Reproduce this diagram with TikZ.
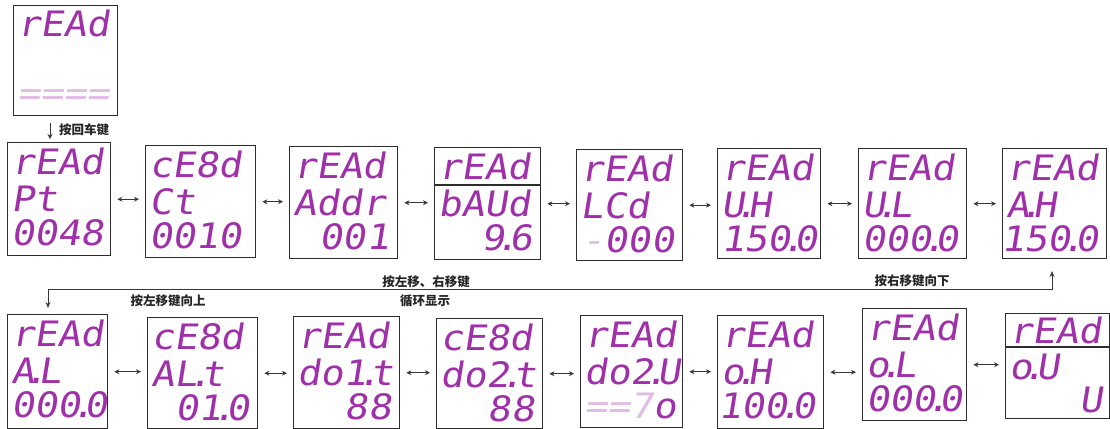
\documentclass[tikz,border=0pt]{standalone}
\usepackage{fontspec}
\usetikzlibrary{arrows.meta,calc}
\newfontfamily\seg{DejaVu Sans Mono}[FakeSlant=0.16,FakeStretch=1.1]
\newfontfamily\cjk{Noto Sans CJK SC}
\definecolor{segc}{RGB}{160,48,170}
\definecolor{seglight}{RGB}{225,188,229}
\definecolor{framec}{RGB}{45,45,45}
\definecolor{arrowc}{RGB}{55,55,55}
\newcommand\sdot{\makebox[0.12em][c]{.}}
\newcommand\lt[1]{\textcolor{seglight}{#1}}
\tikzset{
  dbox/.style={draw=framec, line width=1.4pt, fill=white, anchor=north west, inner sep=0},
  segtxt/.style={anchor=base west, inner sep=0, text depth=0pt, text=segc, font=\seg\fontsize{35}{35}\selectfont},
  dbl/.style={{Stealth[length=5pt,width=5pt]}-{Stealth[length=5pt,width=5pt]}, draw=arrowc, line width=1pt, shorten <=6pt, shorten >=6pt},
  loopline/.style={{Stealth[length=6pt,width=5pt]}-{Stealth[length=6pt,width=5pt]}, draw=arrowc, line width=0.9pt},
  lbl/.style={inner sep=0, text=black!85, font=\cjk\bfseries\fontsize{12.5}{14}\selectfont},
  divline/.style={draw=framec, line width=1.4pt}
}
\newcommand\dispbox[9]{%
  \node[dbox, minimum width={(#4-#2)*1pt}, minimum height={(#5-#3)*1pt}] (#1) at (#2,#3) {};
  \node[segtxt] (#1a) at ([xshift=4pt,yshift=-32pt]#1.north west) {#6};
  \node[segtxt] (#1b) at ([xshift=4pt,yshift=-69pt]#1.north west) {#7};
  \node[segtxt] (#1c) at ([xshift=4pt,yshift=-103pt]#1.north west) {\makebox[\dimexpr #4pt-#2pt-12pt\relax][#9]{#8}};
}
\begin{document}
\begin{tikzpicture}[x=1pt,y=-1pt]
\useasboundingbox (0,0) rectangle (1110,428);
% top box
\node[dbox, minimum width=104pt, minimum height=110pt] (T) at (13,5) {};
\node[segtxt] (Ta) at ([xshift=4pt,yshift=-32pt]T.north west) {rEAd};
\node[segtxt] (Tc) at ([xshift=4pt,yshift=-100pt]T.north west) {\lt{====}};
\coordinate (d1) at (50,123);
\coordinate (d2) at (50,139);
\draw[-{Stealth[length=5pt,width=5pt]}, draw=arrowc, line width=0.9pt] (d1) -- (d2);
\node[lbl, anchor=west] (L0) at (59,130) {按回车键};
% row 1
\dispbox{A1}{7}{142}{110}{255}{rEAd}{Pt}{0048}{l}
\dispbox{A2}{145}{145}{255}{257}{cE8d}{Ct}{0010}{l}
\dispbox{A3}{289}{146}{397}{258}{rEAd}{Addr}{001}{r}
\dispbox{A4}{434}{147}{540}{259}{rEAd}{bAUd}{9\sdot 6}{r}
\draw[divline] ([yshift=-38pt]A4.north west) -- ([yshift=-38pt]A4.north east);
\dispbox{A5}{576}{149}{682}{260}{rEAd}{LCd}{\lt{-}000}{r}
\dispbox{A6}{717}{148}{820}{258}{rEAd}{U\sdot H}{150\sdot 0}{l}
\dispbox{A7}{858}{148}{966}{258}{rEAd}{U\sdot L}{000\sdot 0}{l}
\dispbox{A8}{1002}{148}{1106}{258}{rEAd}{A\sdot H}{150\sdot 0}{r}
\foreach \a/\b in {A1/A2,A2/A3,A3/A4,A4/A5,A5/A6,A6/A7,A7/A8}
  \draw[dbl] (\a.east) -- (\a.east -| \b.west);
% row 2
\dispbox{B1}{7}{314}{107}{428}{rEAd}{A\sdot L}{000\sdot 0}{l}
\dispbox{B2}{147}{317}{257}{428}{cE8d}{AL\sdot t}{01\sdot 0}{r}
\dispbox{B3}{293}{316}{399}{428}{rEAd}{do1\sdot t}{88}{r}
\dispbox{B4}{436}{318}{542}{428}{cE8d}{do2\sdot t}{88}{r}
\dispbox{B5}{580}{315}{682}{427}{rEAd}{do2\sdot U}{\lt{==7}o}{l}
\dispbox{B6}{717}{315}{823}{428}{rEAd}{o\sdot H}{100\sdot 0}{r}
\dispbox{B7}{862}{308}{966}{420}{rEAd}{o\sdot L}{000\sdot 0}{l}
\node[dbox, minimum width=104pt, minimum height=105pt] (B8) at (1005,313) {};
\node[segtxt] (B8a) at ([xshift=4pt,yshift=-30pt]B8.north west) {rEAd};
\node[segtxt] (B8b) at ([xshift=4pt,yshift=-66pt]B8.north west) {o\sdot U};
\node[segtxt, anchor=base east] (B8c) at ([xshift=-8pt,yshift=-99pt]B8.north east) {U};
\draw[divline] ([yshift=-34pt]B8.north west) -- ([yshift=-34pt]B8.north east);
\foreach \a/\b in {B1/B2,B2/B3,B3/B4,B4/B5,B5/B6,B6/B7,B7/B8}
  \draw[dbl] (\a.east) -- (\a.east -| \b.west);
% loop between rows
\coordinate (p1) at (1052,271);
\coordinate (p2) at (1052,289);
\coordinate (p3) at (48,289);
\coordinate (p4) at (48,308);
\draw[loopline] (p1) -- (p2) -- (p3) -- (p4);
\node[lbl] (L1) at (426,282) {按左移、右移键};
\node[lbl] (L2) at (425,301) {循环显示};
\node[lbl] (L3) at (168,301) {按左移键向上};
\node[lbl] (L4) at (912,281) {按右移键向下};
\end{tikzpicture}
\end{document}
